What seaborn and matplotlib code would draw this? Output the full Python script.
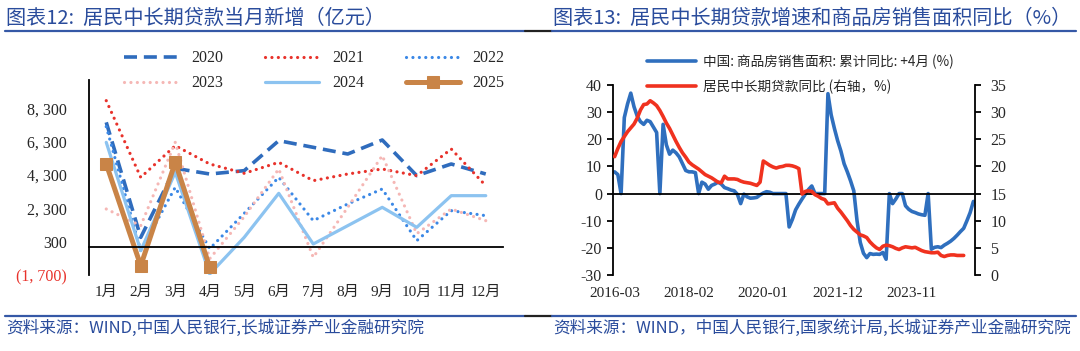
import matplotlib
matplotlib.use('Agg')
import matplotlib.pyplot as plt
from matplotlib.lines import Line2D
import numpy as np
import pandas as pd
import seaborn as sns

# ---- chart 12: monthly new household medium/long-term loans (100m yuan)
months = ['1月', '2月', '3月', '4月', '5月', '6月', '7月', '8月', '9月', '10月', '11月', '12月']
y2020 = [7460, 560, 4700, 4360, 4560, 6360, 5960, 5560, 6400, 4260, 4960, 4360]
y2021 = [8760, 4160, 6060, 4960, 4400, 5060, 3960, 4360, 4660, 4260, 5860, 3660]
y2022 = [7200, -240, 3560, -120, 2000, 4160, 1560, 2560, 3460, 360, 2160, 1860]
y2023 = [2260, 1260, 6260, -720, 1800, 4660, -640, 2360, 5460, 780, 2260, 1560]
y2024 = [6260, -240, 4460, -1640, 560, 3200, 160, 1260, 2360, 1160, 3060, 3060]
y2025 = [4960, -1140, 5060, -1240]
left_ticks = [-1700, 300, 2300, 4300, 6300, 8300]
left_ticklabels = ['(1, 700)', '300', '2, 300', '4, 300', '6, 300', '8, 300']

# ---- chart 13: loan growth vs. housing sales area yoy (%), monthly from 2016-03
start_month = '2016-03'
sales_yoy = [8, 7, 0, 28, 33, 37, 32, 28.5, 26.5, 25.5, 27, 26.5,
             24.5, 22.5, 0, 25.5, 18, 14.5, 16, 15, 13.5, 11, 8.5, 8,
             8, 7.7, 0, 4.2, 3.5, 1.6, 3, 3.5, 4.2, 3.5, 2.2, 1.8,
             1.3, 1, -0.3, -3.7, -0.2, -1.2, -1.7, -1.6, -1.4, -0.5, 0.2, 0.7,
             0.5, 0, 0, 0, 0, 0, -12.3, -9.5, -6, -3.9, -2, -0.2,
             1.5, 2.8, 0, 0, 0, 0, 36.8, 29, 24, 19.5, 15.7, 11,
             8, 4.7, 1, -10, -18, -22, -23.6, -22.1, -22.4, -22.3, -22.4, -21.7,
             -24.2, 0, -3.7, -2, 0, 0, -4.5, -5.8, -6.6, -7, -7.5, -7.8,
             -8, 0, -20.5, -19.8, -19.6, -19.9, -19, -18.3, -17.5, -16.5, -15.3, -14,
             -12.8, -10, -7, -2.9]
loan_yoy = [21.8, 23.3, 24.6, 25.5, 26.4, 27.1, 27.8, 28.9, 30.4, 31.4, 31.5, 32.1,
            31.7, 31.2, 30.3, 29.2, 28, 27, 25.8, 24.6, 23.5, 22.5, 21.7, 20.8,
            20.3, 19.9, 19.5, 19, 18.5, 18.2, 17.9, 17.5, 17.1, 17, 18.2, 17.7,
            17.7, 17.7, 17.6, 17.3, 17.1, 17, 16.9, 16.7, 16.5, 17.1, 21, 20.6,
            20.2, 19.9, 19.7, 19.9, 20, 20.2, 20.2, 20.1, 19.9, 19.6, 14.9, 15.4,
            15.5, 15.4, 14.8, 14.5, 14.1, 13.9, 13.1, 13.2, 13.3, 12.3, 11.6, 10.8,
            10, 9.1, 8.4, 7.9, 7.4, 7.2, 6.9, 6.1, 5.5, 5, 4.7, 5.3,
            5.5, 5.4, 5.2, 4.9, 4.7, 5, 5.2, 5.1, 5, 5.1, 4.8, 4.5,
            4.3, 4.2, 4.1, 4.1, 4.2, 3.6, 3.4, 3.6, 3.7, 3.7, 3.6, 3.6,
            3.6]

sns.set_theme(style='white')
plt.rcParams['font.family'] = ['Liberation Serif', 'Noto Sans CJK SC', 'DejaVu Sans']
plt.rcParams['axes.unicode_minus'] = False

navy = '#2a4c9c'
cjk = ['Noto Sans CJK SC', 'DejaVu Sans']
fig = plt.figure(figsize=(10.8, 3.51), dpi=100)

# ================= left chart =================
ax = fig.add_axes([89 / 1080, 1 - 275 / 351, 414 / 1080, 195 / 351])
x = np.arange(len(months))
dots = (0.01, 2.0)
styles = [
    ('2020', y2020, dict(color='#2f6cbd', lw=2.6), (3.6, 1.9)),
    ('2021', y2021, dict(color='#e8322b', lw=2.3), dots),
    ('2022', y2022, dict(color='#3b88e6', lw=2.3), dots),
    ('2023', y2023, dict(color='#f5b7b5', lw=2.3), dots),
    ('2024', y2024, dict(color='#8cc3f0', lw=2.3), None),
]
lines = {}
for name, vals, kw, dash in styles:
    sns.lineplot(x=x[:len(vals)], y=vals, ax=ax, label=name, **kw)
    ln = ax.lines[-1]
    if dash is not None:
        ln.set_dashes(dash)
        ln.set_dash_capstyle('round' if dash is dots else 'butt')
    lines[name] = ln
sns.lineplot(x=x[:len(y2025)], y=y2025, ax=ax, label='2025', color='#c98447', lw=3.6,
             marker='s', markersize=9, markeredgecolor='#c98447')
lines['2025'] = ax.lines[-1]

ax.set_xlim(-0.5, 11.5)
ax.set_ylim(-1700, 10000)
ax.set_yticks(left_ticks)
ax.set_yticklabels(left_ticklabels, fontsize=11.5)
ax.get_yticklabels()[0].set_color('#e8322b')
ax.set_xticks(x)
ax.set_xticklabels(months, fontsize=11.5)
ax.set_xticks(np.arange(-0.5, 12, 1), minor=True)
ax.spines['bottom'].set_position(('data', 0))
for s in ['top', 'right']:
    ax.spines[s].set_visible(False)
for s in ['left', 'bottom']:
    ax.spines[s].set_color('black')
    ax.spines[s].set_linewidth(1.3)
ax.tick_params(axis='x', which='major', length=0, pad=28)
ax.tick_params(axis='x', which='minor', length=4, width=1.3, direction='out', color='black')
ax.tick_params(axis='y', length=4, width=1.3, direction='out', color='black', pad=12)
ax.set_xlabel('')
ax.set_ylabel('')
order = ['2020', '2023', '2021', '2024', '2022', '2025']
ax.legend([lines[k] for k in order], order, ncol=3, frameon=False, fontsize=11.5,
          loc='upper left', bbox_to_anchor=(118 / 1080, 1 - 44 / 351),
          bbox_transform=fig.transFigure, handlelength=3.4, columnspacing=2.6,
          labelspacing=0.55, borderaxespad=0)

# ================= right chart =================
idx = np.arange(len(sales_yoy))
dates = pd.period_range(start_month, periods=len(sales_yoy), freq='M').strftime('%Y-%m')
bx = fig.add_axes([613 / 1080, 1 - 275 / 351, 362 / 1080, 190 / 351])
sns.lineplot(x=idx, y=sales_yoy, ax=bx, color='#2f6fbe', lw=2.6,
             label='中国: 商品房销售面积: 累计同比: +4月 (%)')
bx2 = bx.twinx()
sns.lineplot(x=idx[:len(loan_yoy)], y=loan_yoy, ax=bx2, color='#f0321f', lw=2.6,
             label='居民中长期贷款同比 (右轴，%)')
bx.set_xlim(-0.5, len(idx) - 0.5)
bx.set_ylim(-30, 40)
bx.set_yticks(range(-30, 41, 10))
bx2.set_ylim(0, 35)
bx2.set_yticks(range(0, 36, 5))
tick_pos = idx[::23]
bx.set_xticks(tick_pos)
bx.set_xticklabels([dates[i] for i in tick_pos], fontsize=11.5)
bx.spines['bottom'].set_position(('data', 0))
for s in ['top', 'right']:
    bx.spines[s].set_visible(False)
for s in ['top', 'left', 'bottom']:
    bx2.spines[s].set_visible(False)
for s in ['left', 'bottom']:
    bx.spines[s].set_color('black')
    bx.spines[s].set_linewidth(1.3)
bx2.spines['right'].set_color('black')
bx2.spines['right'].set_linewidth(1.3)
bx.tick_params(axis='x', length=4, width=1.3, direction='out', color='black', pad=63)
bx.tick_params(axis='y', length=4, width=1.3, direction='out', color='black', pad=4,
               labelsize=11.5)
bx2.tick_params(axis='y', length=4, width=1.3, direction='out', color='black', pad=7,
                labelsize=11.5)
for a in (bx, bx2):
    a.set_xlabel('')
    a.set_ylabel('')
h1, l1 = bx.get_legend_handles_labels()
h2, l2 = bx2.get_legend_handles_labels()
bx.get_legend().remove()
bx2.get_legend().remove()
bx2.legend(h1 + h2, l1 + l2, frameon=False, loc='upper left',
           bbox_to_anchor=(642 / 1080, 1 - 49 / 351), bbox_transform=fig.transFigure,
           prop={'family': cjk, 'size': 9.8},
           handlelength=3.6, labelspacing=0.75, borderaxespad=0, handletextpad=0.5)

# ================= titles, rules and sources =================
fig.text(6 / 1080, 1 - 18 / 351, '图表12:  居民中长期贷款当月新增（亿元）', color=navy,
         fontsize=14.5, style='italic', va='center', family=cjk)
fig.text(553 / 1080, 1 - 18 / 351, '图表13:  居民中长期贷款增速和商品房销售面积同比（%）',
         color=navy, fontsize=14.5, style='italic', va='center', family=cjk)
fig.text(6 / 1080, 1 - 328 / 351, '资料来源：WIND,中国人民银行,长城证券产业金融研究院',
         color=navy, fontsize=12, style='italic', va='center', family=cjk)
fig.text(553 / 1080, 1 - 328 / 351, '资料来源：WIND，中国人民银行,国家统计局,长城证券产业金融研究院',
         color=navy, fontsize=12, style='italic', va='center', family=cjk)
rule = '#3558a6'
for y_px in (31, 316):
    yy = 1 - y_px / 351
    fig.add_artist(Line2D([5 / 1080, 525 / 1080], [yy, yy], color=rule, lw=1.6))
    fig.add_artist(Line2D([525 / 1080, 552 / 1080], [yy, yy], color='#222222', lw=1.6))
    fig.add_artist(Line2D([552 / 1080, 1076 / 1080], [yy, yy], color=rule, lw=1.6))

fig.savefig('out.png', dpi=100)
